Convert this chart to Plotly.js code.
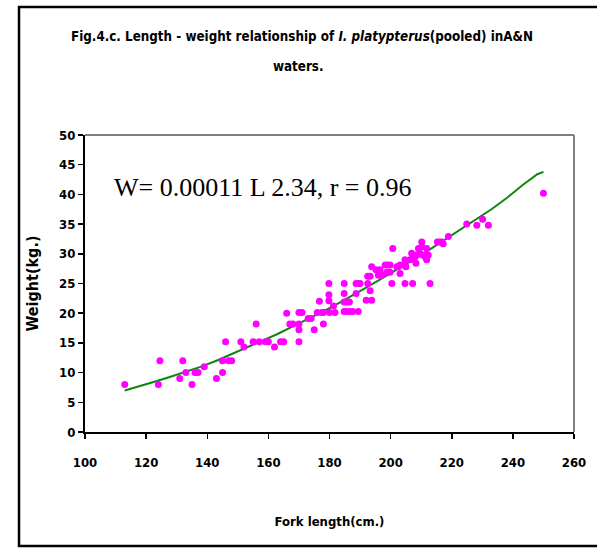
<!DOCTYPE html>
<html>
<head>
<meta charset="utf-8">
<script src="https://cdn.plot.ly/plotly-3.0.1.min.js"></script>
<style>
html,body{margin:0;padding:0;background:#fff;}
#chart{width:597px;height:548px;}
</style>
</head>
<body>
<div id="chart"></div>
<script>
// Observed fish: fork length (cm) and weight (kg)
const lengthCm = [113,124,124.5,131,132,133,135,136,137,139,143,145,145,147,148,146,151,152,155,156,157,159,160,162,164,165,166,167,168,170,171,170,170,170,173,174,175,176.7,176,177.5,178,178,179.8,179.8,179.8,180,181.3,181.8,184.8,184.8,184.8,185.6,186.5,184.8,185.6,186.7,187.6,189.4,188.7,189.4,190,188.7,192,193.8,192.5,193.3,192.5,193.3,193.8,195.2,196,196.5,197.1,198.2,199,199.8,198.7,199.8,200.4,200.7,202,202.5,203.1,204.7,205,204.7,207.2,206.9,208,208.3,209.1,209.6,210.2,210.2,211.3,211.8,211.8,212.9,215.3,207.2,208.5,210.5,212.3,206.4,203.1,204.7,216,216.7,217.2,218.9,224.9,228.2,230.1,232,250];
const weightKg = [8,8,12,9,12,10,8,10,10,11,9,10,12,12,12,15.2,15.2,14.3,15.2,18.2,15.2,15.2,15.2,14.3,15.2,15.2,20,18.2,18.2,20.1,20.1,18.2,17.2,15.2,19.1,19.1,17.2,22,20.1,20.1,20.1,18.2,25,23.1,22.1,20.1,21.2,20.1,25,23.3,21.9,21.9,21.9,20.3,20.3,20.3,20.3,20.3,25,25,25,23.3,22.2,22.2,26.2,26.2,25,23.8,27.8,27.3,26.4,27.3,26.4,28.1,28.1,28.1,26.9,26.9,25,30.9,27.8,27.8,26.7,29,27.8,25,25,30.1,29.5,28.4,30.9,30.1,32,31.2,29.5,30.9,29,25,32,29.8,29.8,29.8,29.8,29,28.1,28.1,32,32,31.7,32.9,35,34.8,35.8,34.8,40.2];

// Fitted curve
const fitLength = [113,118,123,128,133,138,143,148,153,158,163,168,173,178,183,188,193,198,203,208,213,218,223,228,233,238,243,248,250];
const fitWeight = [7.0,7.7,8.5,9.3,10.1,11.0,12.0,13.1,14.2,15.3,16.5,17.8,19.0,20.3,21.7,23.1,24.6,26.1,27.6,29.2,30.8,32.5,34.1,35.8,37.5,39.4,41.5,43.4,43.8];

const xTicks = [100,120,140,160,180,200,220,240,260];
const yTicks = [0,5,10,15,20,25,30,35,40,45,50];

const narrow = '"Liberation Sans Narrow", "Arial Narrow", "DejaVu Sans Condensed", sans-serif';

const L = 85, R = 23, T = 135, B = 116, W = 597, H = 548;
const pw = W - L - R, ph = H - T - B;
const px = x => (x - L) / pw;
const py = y => (H - B - y) / ph;

const traces = [
  {x: fitLength, y: fitWeight, type: 'scatter', mode: 'lines',
   line: {color: '#0f850f', width: 2}, hoverinfo: 'skip'},
  {x: lengthCm, y: weightKg, type: 'scatter', mode: 'markers',
   marker: {symbol: 'circle', size: 7, color: '#ff00ff'}}
];

const layout = {
  width: W, height: H,
  margin: {l: L, r: R, t: T, b: B, pad: 0},
  paper_bgcolor: '#ffffff', plot_bgcolor: '#ffffff',
  showlegend: false,
  font: {family: narrow, color: '#000', size: 13},
  xaxis: {
    range: [100, 260], tickvals: xTicks, ticktext: xTicks.map(String),
    showgrid: false, zeroline: false, showline: true, linecolor: '#000', linewidth: 2,
    ticks: 'outside', ticklen: 5, tickwidth: 1.5, tickcolor: '#000',
    ticklabelstandoff: 12,
    tickfont: {family: narrow, size: 13, weight: 'bold', color: '#000'},
    title: {text: 'Fork length(cm.)', font: {family: narrow, size: 13, weight: 'bold', color: '#000'}, standoff: 48}
  },
  yaxis: {
    range: [0, 50], tickvals: yTicks, ticktext: yTicks.map(String),
    showgrid: false, zeroline: false, showline: true, linecolor: '#000', linewidth: 2,
    ticks: 'outside', ticklen: 5, tickwidth: 1.5, tickcolor: '#000',
    tickfont: {family: narrow, size: 13, weight: 'bold', color: '#000'},
    title: {text: 'Weight(kg.)', font: {family: narrow, size: 16, weight: 'bold', color: '#000'}, standoff: 17}
  },
  shapes: [
    {type: 'line', xref: 'paper', yref: 'paper', x0: 0, x1: 1, y0: 1, y1: 1, line: {color: '#808080', width: 2}},
    {type: 'line', xref: 'paper', yref: 'paper', x0: 1, x1: 1, y0: 0, y1: 1, line: {color: '#808080', width: 2}},
    {type: 'rect', xref: 'paper', yref: 'paper', x0: px(19), x1: px(600), y0: py(546), y1: py(7), line: {color: '#000', width: 2.5}, layer: 'below'}
  ],
  annotations: [
    {xref: 'paper', yref: 'paper', x: px(302), y: py(36), xanchor: 'center', yanchor: 'middle', showarrow: false,
     text: 'Fig.4.c. Length - weight relationship of <i>I. platypterus</i>(pooled) inA&amp;N',
     font: {family: narrow, size: 13.3, weight: 'bold', color: '#000'}},
    {xref: 'paper', yref: 'paper', x: px(298), y: py(66), xanchor: 'center', yanchor: 'middle', showarrow: false,
     text: 'waters.', font: {family: narrow, size: 13.3, weight: 'bold', color: '#000'}},
    {xref: 'paper', yref: 'paper', x: px(112), y: py(187), xanchor: 'left', yanchor: 'middle', showarrow: false,
     text: 'W= 0.00011 L 2.34, r = 0.96', font: {family: '"Liberation Serif", "Times New Roman", serif', size: 26, weight: 'normal', color: '#000'}}
  ]
};

Plotly.newPlot('chart', traces, layout, {displayModeBar: false, staticPlot: true});
</script>
</body>
</html>
